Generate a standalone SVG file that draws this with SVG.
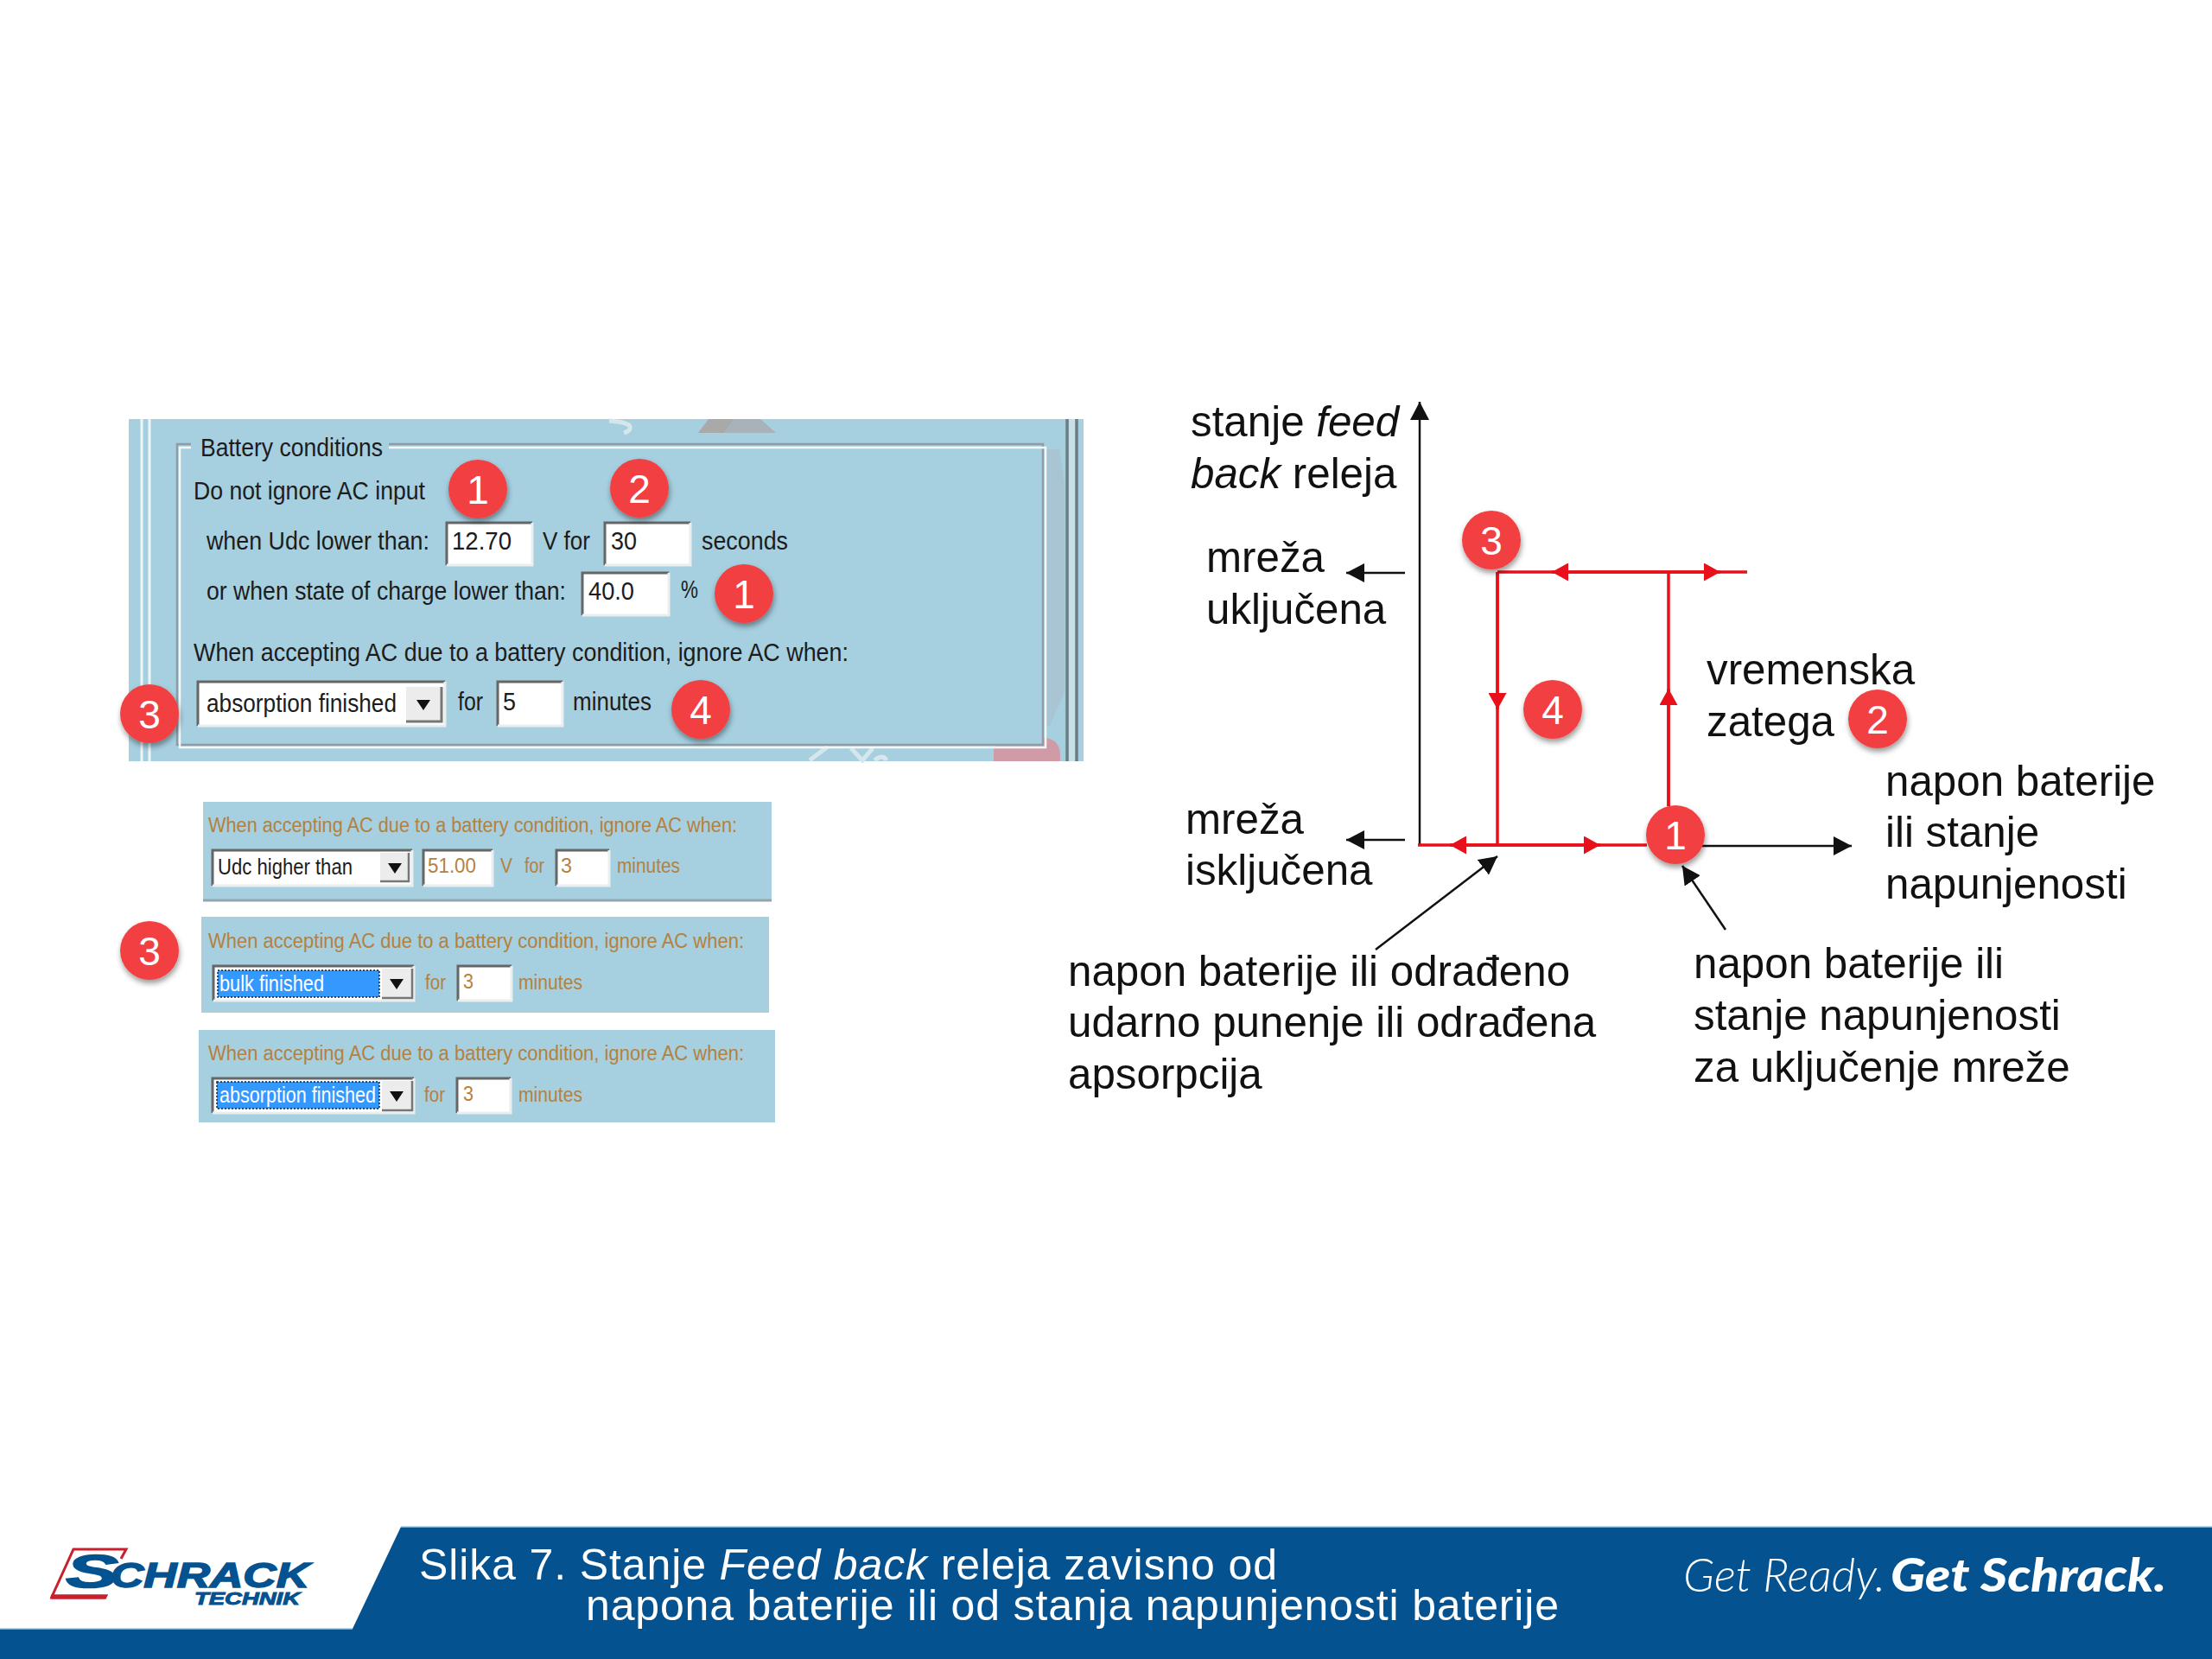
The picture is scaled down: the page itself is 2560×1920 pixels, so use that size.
<svg xmlns="http://www.w3.org/2000/svg" width="2560" height="1920" viewBox="0 0 2560 1920">
<style>
text{font-family:"Liberation Sans",Arial,sans-serif}
.ui{font-size:30px;fill:#1c1c1c}
.uo{font-size:23px;fill:#b5813e}
.uk{font-size:25px;fill:#1c1c1c}
.us{font-size:25px;fill:#fff}
.lab{font-size:49.3px;fill:#111}
.num{font-size:46px;fill:#fff;text-anchor:middle}
.badge{fill:#f24043;filter:url(#sh)}
.panel{fill:#a6cfdf}
.input{fill:#fff}
.hi{fill:none;stroke:#e9eff1;stroke-width:3}
.lo{fill:none;stroke:#666;stroke-width:3}
.red{fill:none;stroke:#e8101a;stroke-width:3.5}
.blk{fill:none;stroke:#111;stroke-width:2.5}
.foot{font-size:50px;fill:#fff}
.logo{fill:#04528f;stroke:#04528f;font-weight:700;font-style:italic}
</style>
<defs>
<filter id="sh" x="-30%" y="-30%" width="160%" height="160%"><feDropShadow dx="1" dy="4" stdDeviation="3" flood-color="#000" flood-opacity="0.4"/></filter>
<marker id="rh" markerUnits="userSpaceOnUse" markerWidth="20" markerHeight="21" refX="19" refY="10.5" orient="auto" viewBox="0 0 20 21"><path d="M0 0L19 10.5L0 21Z" fill="#e8101a"/></marker>
<marker id="bh" markerUnits="userSpaceOnUse" markerWidth="22" markerHeight="22" refX="21" refY="11" orient="auto" viewBox="0 0 22 22"><path d="M0 0L21 11L0 22Z" fill="#111"/></marker>
<path id="ddarrow" d="M-8 -5H8L0 7Z" fill="#111"/>
</defs>
<rect width="2560" height="1920" fill="#fff"/>

<g id="panel-battery">
<rect class="panel" x="149" y="485" width="1105" height="396"/>
<path d="M820 485H850L838 501H808Z" fill="#a9a9a9"/>
<path d="M850 485H880L898 501H838Z" fill="#a7b2b9"/>
<path d="M705 487Q722 488 728 492Q732 498 722 501" fill="none" stroke="#d5e6ec" stroke-width="5"/>
<path d="M1210 520H1226L1232 560V800L1215 840H1210Z" fill="#a9c4d2"/>
<path d="M1150 881V868Q1152 854 1175 854H1210Q1227 856 1227 875V881Z" fill="#d09aa6"/>
<path d="M937 880L958 864M985 866L998 880L1010 866M1012 880Q1022 872 1026 880" fill="none" stroke="#d5e6ec" stroke-width="5"/>
<path d="M164 485V881M173 485V881" fill="none" stroke="#eef5f7" stroke-width="3"/>
<path d="M1241 485V881" fill="none" stroke="#c8dfe7" stroke-width="8"/>
<path d="M1235 485V881M1246 485V881" fill="none" stroke="#6e7d84" stroke-width="3.5"/>
<rect class="panel" x="207" y="516" width="1000" height="346"/>
<path d="M221 514H205V862H1207V514H450" fill="none" stroke="#8f9ca3" stroke-width="2.5"/>
<path d="M221 518H208V865H1210V518H450" fill="none" stroke="#f2f7f8" stroke-width="2.5"/>
<text class="ui" x="232" y="528" textLength="211" lengthAdjust="spacingAndGlyphs">Battery conditions</text>
<text class="ui" x="224" y="578" textLength="268" lengthAdjust="spacingAndGlyphs">Do not ignore AC input</text>
<text class="ui" x="239" y="636" textLength="258" lengthAdjust="spacingAndGlyphs">when Udc lower than:</text>
<rect class="input" x="516" y="604" width="100" height="50"/><path class="lo" d="M517 654V605H616"/><path class="hi" d="M517 654H616V605"/>
<text class="ui" x="523" y="636" textLength="69" lengthAdjust="spacingAndGlyphs">12.70</text>
<text class="ui" x="628" y="636" textLength="55" lengthAdjust="spacingAndGlyphs">V for</text>
<rect class="input" x="699" y="604" width="100" height="50"/><path class="lo" d="M700 654V605H799"/><path class="hi" d="M700 654H799V605"/>
<text class="ui" x="707" y="636" textLength="30" lengthAdjust="spacingAndGlyphs">30</text>
<text class="ui" x="812" y="636" textLength="100" lengthAdjust="spacingAndGlyphs">seconds</text>
<text class="ui" x="239" y="694" textLength="416" lengthAdjust="spacingAndGlyphs">or when state of charge lower than:</text>
<rect class="input" x="673" y="662" width="101" height="50"/><path class="lo" d="M674 712V663H774"/><path class="hi" d="M674 712H774V663"/>
<text class="ui" x="681" y="694" textLength="53" lengthAdjust="spacingAndGlyphs">40.0</text>
<text class="ui" x="788" y="692" textLength="20" lengthAdjust="spacingAndGlyphs">%</text>
<text class="ui" x="224" y="765" textLength="758" lengthAdjust="spacingAndGlyphs">When accepting AC due to a battery condition, ignore AC when:</text>
<rect class="input" x="228" y="788" width="287" height="52"/><path class="lo" d="M229 840V789H515"/><path class="hi" d="M229 840H515V789"/>
<rect x="470" y="795" width="41" height="41" fill="#ececec"/><path d="M470 835H511V795" fill="none" stroke="#777" stroke-width="3"/>
<use href="#ddarrow" x="490" y="815"/>
<text class="ui" x="239" y="824" textLength="220" lengthAdjust="spacingAndGlyphs">absorption finished</text>
<text class="ui" x="530" y="822" textLength="29" lengthAdjust="spacingAndGlyphs">for</text>
<rect class="input" x="575" y="788" width="76" height="52"/><path class="lo" d="M576 840V789H651"/><path class="hi" d="M576 840H651V789"/>
<text class="ui" x="582" y="822" textLength="15" lengthAdjust="spacingAndGlyphs">5</text>
<text class="ui" x="663" y="822" textLength="91" lengthAdjust="spacingAndGlyphs">minutes</text>
</g>
<g id="badge-a1"><circle class="badge" cx="553" cy="566" r="34"/><text class="num" x="553" y="583">1</text></g>
<g id="badge-a2"><circle class="badge" cx="740" cy="565" r="34"/><text class="num" x="740" y="582">2</text></g>
<g id="badge-a1b"><circle class="badge" cx="861" cy="687" r="34"/><text class="num" x="861" y="704">1</text></g>
<g id="badge-a3"><circle class="badge" cx="173" cy="826" r="34"/><text class="num" x="173" y="843">3</text></g>
<g id="badge-a4"><circle class="badge" cx="811" cy="821" r="34"/><text class="num" x="811" y="838">4</text></g>

<g id="panel-udc">
<rect class="panel" x="235" y="928" width="658" height="115"/>
<path d="M235 1042H893" stroke="#93a5ad" stroke-width="3"/>
<text class="uo" x="241" y="963" textLength="612" lengthAdjust="spacingAndGlyphs">When accepting AC due to a battery condition, ignore AC when:</text>
<rect class="input" x="245" y="983" width="232" height="42"/><path class="lo" d="M246 1025V984H477"/><path class="hi" d="M246 1025H477V984"/>
<rect x="440" y="987" width="33" height="33" fill="#ececec"/><path d="M440 1020H473V987" fill="none" stroke="#777" stroke-width="2.5"/>
<use href="#ddarrow" x="457" y="1004"/>
<text class="uk" x="252" y="1012" textLength="156" lengthAdjust="spacingAndGlyphs">Udc higher than</text>
<rect class="input" x="489" y="983" width="81" height="42"/><path class="lo" d="M490 1025V984H570"/><path class="hi" d="M490 1025H570V984"/>
<text class="uo" x="495" y="1010" textLength="56" lengthAdjust="spacingAndGlyphs">51.00</text>
<text class="uo" x="579" y="1010" textLength="14" lengthAdjust="spacingAndGlyphs">V</text>
<text class="uo" x="607" y="1010" textLength="23" lengthAdjust="spacingAndGlyphs">for</text>
<rect class="input" x="643" y="983" width="62" height="42"/><path class="lo" d="M644 1025V984H705"/><path class="hi" d="M644 1025H705V984"/>
<text class="uo" x="649" y="1010" textLength="13" lengthAdjust="spacingAndGlyphs">3</text>
<text class="uo" x="714" y="1010" textLength="73" lengthAdjust="spacingAndGlyphs">minutes</text>
</g>

<g id="panel-bulk">
<rect class="panel" x="233" y="1061" width="657" height="111"/>
<text class="uo" x="241" y="1097" textLength="620" lengthAdjust="spacingAndGlyphs">When accepting AC due to a battery condition, ignore AC when:</text>
<rect class="input" x="246" y="1117" width="233" height="41"/><path class="lo" d="M247 1158V1118H479"/><path class="hi" d="M247 1158H479V1118"/>
<rect x="252" y="1123" width="187" height="31" fill="#3399ff" stroke="#123" stroke-width="1.5" stroke-dasharray="2 2"/>
<rect x="442" y="1121" width="35" height="34" fill="#ececec"/><path d="M442 1155H477V1121" fill="none" stroke="#777" stroke-width="2.5"/>
<use href="#ddarrow" x="459" y="1138"/>
<text class="us" x="254" y="1147" textLength="121" lengthAdjust="spacingAndGlyphs">bulk finished</text>
<text class="uo" x="492" y="1145" textLength="24" lengthAdjust="spacingAndGlyphs">for</text>
<rect class="input" x="529" y="1117" width="63" height="41"/><path class="lo" d="M530 1158V1118H592"/><path class="hi" d="M530 1158H592V1118"/>
<text class="uo" x="536" y="1144" textLength="12" lengthAdjust="spacingAndGlyphs">3</text>
<text class="uo" x="600" y="1145" textLength="74" lengthAdjust="spacingAndGlyphs">minutes</text>
</g>
<g id="badge-b3"><circle class="badge" cx="173" cy="1100" r="34"/><text class="num" x="173" y="1117">3</text></g>

<g id="panel-absorption">
<rect class="panel" x="230" y="1192" width="667" height="107"/>
<text class="uo" x="241" y="1227" textLength="620" lengthAdjust="spacingAndGlyphs">When accepting AC due to a battery condition, ignore AC when:</text>
<rect class="input" x="245" y="1247" width="234" height="41"/><path class="lo" d="M246 1288V1248H479"/><path class="hi" d="M246 1288H479V1248"/>
<rect x="251" y="1252" width="188" height="31" fill="#3399ff" stroke="#123" stroke-width="1.5" stroke-dasharray="2 2"/>
<rect x="442" y="1251" width="35" height="34" fill="#ececec"/><path d="M442 1285H477V1251" fill="none" stroke="#777" stroke-width="2.5"/>
<use href="#ddarrow" x="459" y="1268"/>
<text class="us" x="254" y="1276" textLength="181" lengthAdjust="spacingAndGlyphs">absorption finished</text>
<text class="uo" x="491" y="1275" textLength="24" lengthAdjust="spacingAndGlyphs">for</text>
<rect class="input" x="528" y="1247" width="63" height="41"/><path class="lo" d="M529 1288V1248H591"/><path class="hi" d="M529 1288H591V1248"/>
<text class="uo" x="536" y="1274" textLength="12" lengthAdjust="spacingAndGlyphs">3</text>
<text class="uo" x="600" y="1275" textLength="74" lengthAdjust="spacingAndGlyphs">minutes</text>
</g>

<g id="connectors">
<path class="blk" d="M1643 978V465" marker-end="url(#bh)"/>
<path class="blk" d="M1940 979H2143" marker-end="url(#bh)"/>
<path class="blk" d="M1626 663H1558" marker-end="url(#bh)"/>
<path class="blk" d="M1626 972H1558" marker-end="url(#bh)"/>
<path class="blk" d="M1592 1099L1733 991" marker-end="url(#bh)"/>
<path class="blk" d="M1997 1076L1947 1002" marker-end="url(#bh)"/>
<path class="red" d="M1641 978H1906"/>
<path class="red" d="M1733 978H1678" marker-end="url(#rh)"/>
<path class="red" d="M1733 978H1852" marker-end="url(#rh)"/>
<path class="red" d="M1733 662V978"/>
<path class="red" d="M1733 662V821" marker-end="url(#rh)"/>
<path class="red" d="M1733 662H2022"/>
<path class="red" d="M1931 662H1796" marker-end="url(#rh)"/>
<path class="red" d="M1931 662H1991" marker-end="url(#rh)"/>
<path class="red" d="M1931 662V933"/>
<path class="red" d="M1931 933V797" marker-end="url(#rh)"/>
</g>
<g id="badge-c3"><circle class="badge" cx="1726" cy="625" r="34"/><text class="num" x="1726" y="642">3</text></g>
<g id="badge-c4"><circle class="badge" cx="1797" cy="821" r="34"/><text class="num" x="1797" y="838">4</text></g>
<g id="badge-c1"><circle class="badge" cx="1939" cy="966" r="34"/><text class="num" x="1939" y="983">1</text></g>
<g id="badge-c2"><circle class="badge" cx="2173" cy="832" r="34"/><text class="num" x="2173" y="849">2</text></g>

<g id="label-state">
<text class="lab" x="1378" y="505">stanje <tspan font-style="italic">feed</tspan></text>
<text class="lab" x="1378" y="565"><tspan font-style="italic">back</tspan> releja</text>
</g>
<g id="label-on"><text class="lab" x="1396" y="662">mreža</text><text class="lab" x="1396" y="722">uključena</text></g>
<g id="label-off"><text class="lab" x="1372" y="965">mreža</text><text class="lab" x="1372" y="1024">isključena</text></g>
<g id="label-delay"><text class="lab" x="1975" y="792">vremenska</text><text class="lab" x="1975" y="852">zatega</text></g>
<g id="label-x"><text class="lab" x="2182" y="921">napon baterije</text><text class="lab" x="2182" y="980">ili stanje</text><text class="lab" x="2182" y="1040">napunjenosti</text></g>
<g id="label-off-cond"><text class="lab" x="1236" y="1141">napon baterije ili odrađeno</text><text class="lab" x="1236" y="1200">udarno punenje ili odrađena</text><text class="lab" x="1236" y="1260">apsorpcija</text></g>
<g id="label-on-cond"><text class="lab" x="1960" y="1132">napon baterije ili</text><text class="lab" x="1960" y="1192">stanje napunjenosti</text><text class="lab" x="1960" y="1252">za uključenje mreže</text></g>

<g id="footer">
<path d="M464 1767H2560V1920H0V1885H408Z" fill="#04528f"/>
<path d="M464 1767H2560" stroke="#a5c6dc" stroke-width="1.5" fill="none"/>
<path d="M0 1885H408" stroke="#a5c6dc" stroke-width="1.5" fill="none"/>
<text class="foot" x="485" y="1828" textLength="993">Slika 7. Stanje <tspan font-style="italic">Feed back</tspan> releja zavisno od</text>
<text class="foot" x="678" y="1875" textLength="1126">napona baterije ili od stanja napunjenosti baterije</text>
<text x="1948" y="1842" font-size="54" font-style="italic" font-weight="300" fill="#fff" style="font-family:Lato,sans-serif" textLength="234" lengthAdjust="spacingAndGlyphs">Get Ready.</text>
<text x="2188" y="1842" font-size="54" font-style="italic" font-weight="900" fill="#fff" style="font-family:Lato,sans-serif" textLength="319" lengthAdjust="spacingAndGlyphs">Get Schrack.</text>
</g>

<g id="logo">
<path d="M140 1804L146 1793H85L60 1848H123" fill="none" stroke="#c8202c" stroke-width="3"/>
<path d="M60 1846H124L122 1850H59Z" fill="#c8202c" stroke="#c8202c" stroke-width="1.5"/>
<text class="logo" x="76" y="1837" font-size="54" stroke-width="1.5" textLength="61" lengthAdjust="spacingAndGlyphs">S</text>
<text class="logo" x="128" y="1837" font-size="40" stroke-width="1.5" textLength="230" lengthAdjust="spacingAndGlyphs">CHRACK</text>
<text class="logo" x="225" y="1857" font-size="20" stroke-width="1" textLength="122" lengthAdjust="spacingAndGlyphs">TECHNIK</text>
</g>
</svg>
